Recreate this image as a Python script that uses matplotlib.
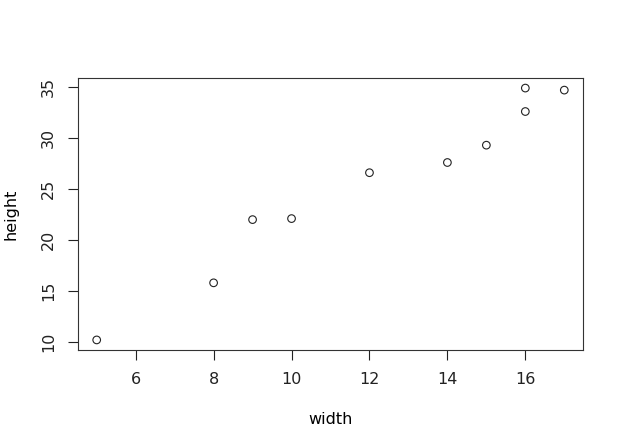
import matplotlib
matplotlib.use("Agg")
import matplotlib.pyplot as plt

width = [5, 8, 9, 10, 12, 14, 15, 16, 16, 17]
height = [10.2, 15.8, 22.0, 22.1, 26.6, 27.6, 29.3, 32.6, 34.9, 34.7]
xticks = [6, 8, 10, 12, 14, 16]
yticks = [10, 15, 20, 25, 30, 35]

fig = plt.figure(figsize=(6.24, 4.48), dpi=100)
ax = fig.add_axes([78/624, 98/448, 505/624, 272/448])
ax.scatter(width, height, s=30, facecolors='none', edgecolors='#222222', linewidths=0.8)
xr = max(width) - min(width)
yr = max(height) - min(height)
ax.set_xlim(min(width) - 0.04*xr, max(width) + 0.04*xr)
ax.set_ylim(min(height) - 0.04*yr, max(height) + 0.04*yr)
ax.set_xticks(xticks)
ax.set_yticks(yticks)
ax.set_xticklabels([str(t) for t in xticks], fontsize=11.5)
ax.set_yticklabels([str(t) for t in yticks], fontsize=11.5, rotation=90, va='center')
ax.tick_params(length=7, width=0.8, pad=9, colors='#222222')
for s in ax.spines.values():
    s.set_linewidth(0.8)
    s.set_color('#333333')
ax.set_xlabel("width", fontsize=11.5, labelpad=18)
ax.set_ylabel("height", fontsize=11.5, labelpad=16)
fig.savefig("out.png", dpi=100)
